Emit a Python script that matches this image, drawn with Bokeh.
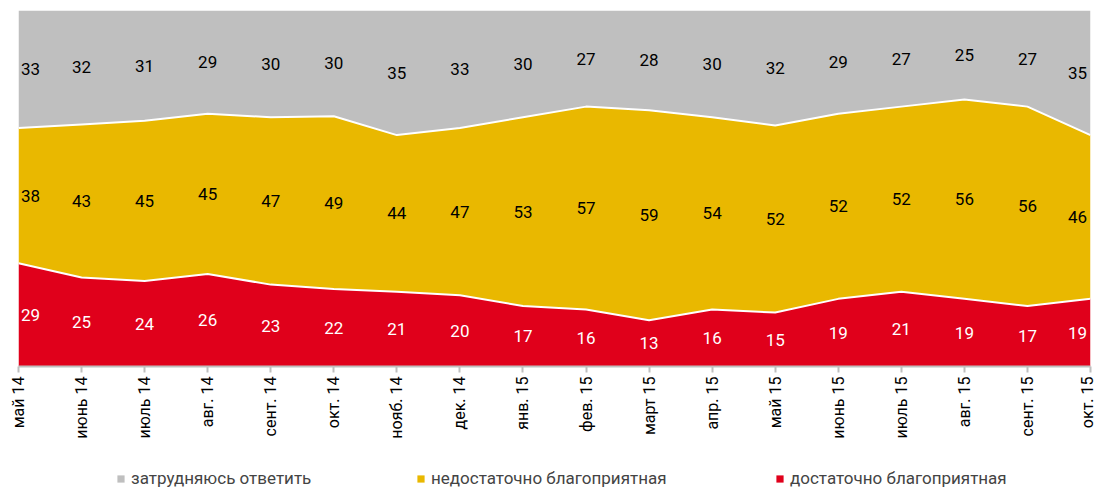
import math
from bokeh.plotting import figure
from bokeh.layouts import column
from bokeh.models import Range1d, Legend, LegendItem, ColumnDataSource, FixedTicker
from bokeh.core.properties import value
from bokeh.embed import file_html
from bokeh.resources import INLINE

months = ["май 14", "июнь 14", "июль 14", "авг. 14", "сент. 14", "окт. 14",
          "нояб. 14", "дек. 14", "янв. 15", "фев. 15", "март 15", "апр. 15",
          "май 15", "июнь 15", "июль 15", "авг. 15", "сент. 15", "окт. 15"]
hard = [33, 32, 31, 29, 30, 30, 35, 33, 30, 27, 28, 30, 32, 29, 27, 25, 27, 35]
insufficient = [38, 43, 45, 45, 47, 49, 44, 47, 53, 57, 59, 54, 52, 52, 52, 56, 56, 46]
sufficient = [29, 25, 24, 26, 23, 22, 21, 20, 17, 16, 13, 16, 15, 19, 21, 19, 17, 19]

names = ["затрудняюсь ответить", "недостаточно благоприятная", "достаточно благоприятная"]
colors = ["#BFBFBF", "#E9B800", "#E0001B"]

FONT = "Roboto"

n = len(months)
xs = list(range(n))
tot = [a + b + c for a, b, c in zip(hard, insufficient, sufficient)]
c1 = [s / t * 100 for s, t in zip(sufficient, tot)]
c2 = [(s + i) / t * 100 for s, i, t in zip(sufficient, insufficient, tot)]
c3 = [100.0] * n

p = figure(frame_width=1072, frame_height=356, x_range=Range1d(0, n - 1),
           y_range=Range1d(0, 100), output_backend="svg", toolbar_location=None,
           min_border_left=18, min_border_top=10, min_border_right=6,
           min_border_bottom=90)
p.outline_line_color = None
p.grid.visible = False
p.yaxis.visible = False

p.varea(x=xs, y1=[0] * n, y2=c1, fill_color=colors[2])
p.varea(x=xs, y1=c1, y2=c2, fill_color=colors[1])
p.varea(x=xs, y1=c2, y2=c3, fill_color=colors[0])
p.line(xs, c1, line_color="white", line_width=2)
p.line(xs, c2, line_color="white", line_width=2)

offs = [12] + [0] * (n - 2) + [-13]
for vals, lo, hi, col in [(sufficient, [0] * n, c1, "white"),
                          (insufficient, c1, c2, "black"),
                          (hard, c2, c3, "black")]:
    src = ColumnDataSource(dict(x=xs, y=[(a + b) / 2 for a, b in zip(lo, hi)],
                                t=[str(v) for v in vals], dx=offs))
    p.text(x="x", y="y", text="t", x_offset="dx", source=src, text_color=col,
           text_font=value(FONT), text_font_size="17px", text_align="center",
           text_baseline="middle")

ax = p.xaxis[0]
ax.ticker = FixedTicker(ticks=xs)
ax.major_label_overrides = {i: m for i, m in enumerate(months)}
ax.major_label_orientation = math.pi / 2
ax.major_label_text_font = FONT
ax.major_label_text_font_size = "16px"
ax.major_label_text_color = "black"
ax.major_label_standoff = 4
ax.axis_line_color = "#BFBFBF"
ax.axis_line_width = 2
ax.major_tick_line_color = "#BFBFBF"
ax.major_tick_line_width = 2
ax.major_tick_in = 0
ax.major_tick_out = 6
ax.minor_tick_line_color = None

# legend strip
q = figure(width=1096, height=34, x_range=Range1d(0, 1), y_range=Range1d(0, 1),
           output_backend="svg", toolbar_location=None, x_axis_type=None,
           y_axis_type=None, min_border_left=0, min_border_right=0,
           min_border_top=0, min_border_bottom=0)
q.outline_line_color = None
q.grid.visible = False
legend_x = [98, 398, 757]
for name, col, lx in zip(names, colors, legend_x):
    r = q.quad(left=[-5], right=[-4], bottom=[-5], top=[-4], fill_color=col,
               line_color=None)
    lg = Legend(items=[LegendItem(label=name, renderers=[r])], location=(lx, 2))
    lg.label_text_font = FONT
    lg.label_text_font_size = "17px"
    lg.glyph_width = 9
    lg.glyph_height = 9
    lg.label_standoff = 6
    lg.border_line_color = None
    lg.background_fill_alpha = 0
    lg.padding = 0
    lg.margin = 0
    q.add_layout(lg, "center")

open("out.html", "w").write(file_html(column(p, q, spacing=0), INLINE))
